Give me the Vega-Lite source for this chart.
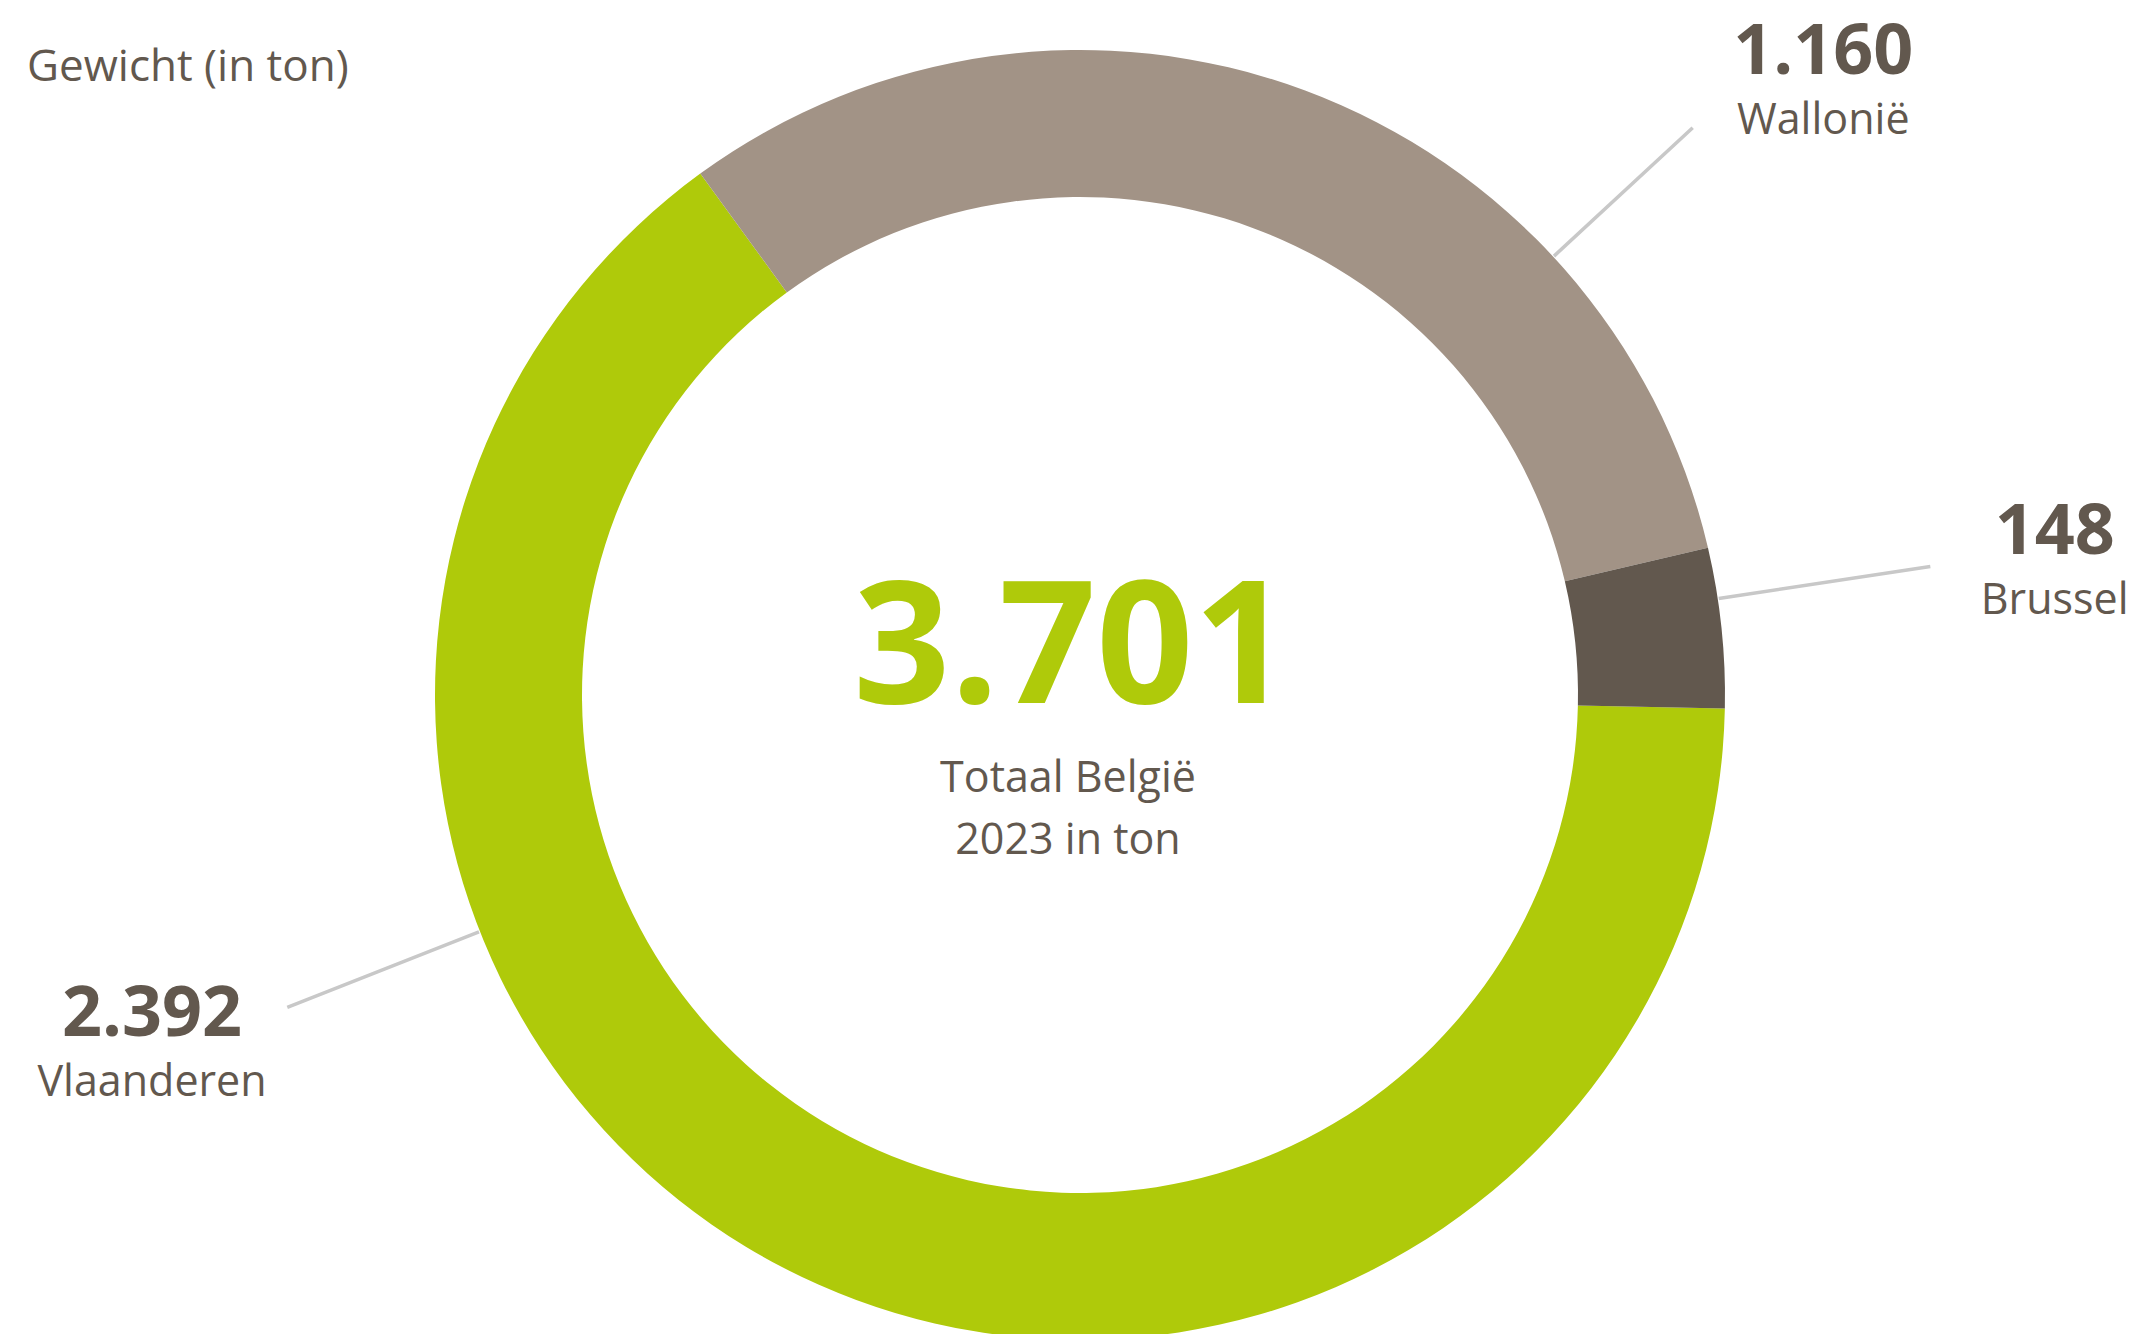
{
  "$schema": "https://vega.github.io/schema/vega-lite/v6.json",
  "width": 2120,
  "height": 1278,
  "autosize": {"type": "none"},
  "padding": {"left": 20, "top": 56, "right": 0, "bottom": 0},
  "background": "white",
  "config": {
    "view": {"stroke": null},
    "font": "Open Sans",
    "locale": {"number": {"decimal": ",", "thousands": ".", "grouping": [3], "currency": ["€", ""]}}
  },
  "title": {
    "text": "Gewicht (in ton)",
    "anchor": "start",
    "frame": "group",
    "orient": "top",
    "offset": -27,
    "baseline": "alphabetic",
    "dx": 7,
    "dy": 80,
    "fontSize": 44,
    "fontWeight": "normal",
    "color": "#62584E",
    "font": "Open Sans"
  },
  "datasets": {
    "regions": [
      {"region": "Vlaanderen", "value": 2392},
      {"region": "Wallonië", "value": 1160},
      {"region": "Brussel", "value": 148}
    ],
    "total": [
      {"total": 3701, "line1": "Totaal België", "line2": "2023 in ton"}
    ]
  },
  "data": {"name": "regions"},
  "transform": [
    {"stack": "value", "groupby": [], "sort": [{"field": "value", "order": "descending"}], "as": ["v0", "v1"]}
  ],
  "layer": [
    {
      "mark": {"type": "arc", "outerRadius": 645, "innerRadius": 498},
      "encoding": {
        "theta": {"field": "v1", "type": "quantitative", "stack": null, "scale": {"range": [1.59174, 7.87493], "nice": false, "zero": true}},
        "theta2": {"field": "v0"},
        "color": {
          "field": "region",
          "type": "nominal",
          "scale": {"domain": ["Vlaanderen", "Wallonië", "Brussel"], "range": ["#AFCA0A", "#A29386", "#62584E"]},
          "legend": null
        }
      }
    },
    {
      "transform": [{"filter": "datum.region === 'Vlaanderen'"}],
      "layer": [
        {
          "mark": {"type": "arc", "filled": false, "stroke": "#C8C8C8", "strokeWidth": 3.5, "innerRadius": 646, "outerRadius": 852, "thetaOffset": 2.7454, "theta2Offset": 2.7454},
          "encoding": {"theta": {"field": "v0", "type": "quantitative", "stack": null}, "theta2": {"field": "v0"}}
        },
        {
          "mark": {"type": "text", "radius": 996, "thetaOffset": 2.7489, "dy": -21, "baseline": "alphabetic", "align": "center", "fontSize": 70, "fontWeight": "bold", "color": "#62584E"},
          "encoding": {"theta": {"field": "v0", "type": "quantitative", "stack": null}, "text": {"field": "value", "type": "quantitative", "format": ",.0f"}}
        },
        {
          "mark": {"type": "text", "radius": 996, "thetaOffset": 2.7489, "dy": 39, "baseline": "alphabetic", "align": "center", "fontSize": 43, "color": "#62584E"},
          "encoding": {"theta": {"field": "v0", "type": "quantitative", "stack": null}, "text": {"field": "region", "type": "nominal"}}
        }
      ]
    },
    {
      "transform": [{"filter": "datum.region === 'Wallonië'"}],
      "layer": [
        {
          "mark": {"type": "arc", "filled": false, "stroke": "#C8C8C8", "strokeWidth": 3.5, "innerRadius": 646, "outerRadius": 835, "thetaOffset": 1.4533, "theta2Offset": 1.4533},
          "encoding": {"theta": {"field": "v0", "type": "quantitative", "stack": null}, "theta2": {"field": "v0"}}
        },
        {
          "mark": {"type": "text", "radius": 955, "thetaOffset": 1.5214, "dy": -21, "baseline": "alphabetic", "align": "center", "fontSize": 70, "fontWeight": "bold", "color": "#62584E"},
          "encoding": {"theta": {"field": "v0", "type": "quantitative", "stack": null}, "text": {"field": "value", "type": "quantitative", "format": ",.0f"}}
        },
        {
          "mark": {"type": "text", "radius": 955, "thetaOffset": 1.5214, "dy": 39, "baseline": "alphabetic", "align": "center", "fontSize": 43, "color": "#62584E"},
          "encoding": {"theta": {"field": "v0", "type": "quantitative", "stack": null}, "text": {"field": "region", "type": "nominal"}}
        }
      ]
    },
    {
      "transform": [{"filter": "datum.region === 'Brussel'"}],
      "layer": [
        {
          "mark": {"type": "arc", "filled": false, "stroke": "#C8C8C8", "strokeWidth": 3.5, "innerRadius": 646, "outerRadius": 860, "thetaOffset": 0.0803, "theta2Offset": 0.0803},
          "encoding": {"theta": {"field": "v0", "type": "quantitative", "stack": null}, "theta2": {"field": "v0"}}
        },
        {
          "mark": {"type": "text", "radius": 982, "thetaOffset": 0.1082, "dy": -21, "baseline": "alphabetic", "align": "center", "fontSize": 70, "fontWeight": "bold", "color": "#62584E"},
          "encoding": {"theta": {"field": "v0", "type": "quantitative", "stack": null}, "text": {"field": "value", "type": "quantitative", "format": ",.0f"}}
        },
        {
          "mark": {"type": "text", "radius": 982, "thetaOffset": 0.1082, "dy": 39, "baseline": "alphabetic", "align": "center", "fontSize": 43, "color": "#62584E"},
          "encoding": {"theta": {"field": "v0", "type": "quantitative", "stack": null}, "text": {"field": "region", "type": "nominal"}}
        }
      ]
    },
    {
      "data": {"name": "total"},
      "layer": [
        {
          "mark": {"type": "text", "dx": -8, "dy": 8, "baseline": "alphabetic", "align": "center", "fontSize": 170, "fontWeight": "bold", "color": "#AFCA0A"},
          "encoding": {"text": {"field": "total", "type": "quantitative", "format": ",.0f"}}
        },
        {
          "mark": {"type": "text", "dx": -12, "dy": 97, "baseline": "alphabetic", "align": "center", "fontSize": 43, "color": "#62584E"},
          "encoding": {"text": {"field": "line1", "type": "nominal"}}
        },
        {
          "mark": {"type": "text", "dx": -12, "dy": 159, "baseline": "alphabetic", "align": "center", "fontSize": 43, "color": "#62584E"},
          "encoding": {"text": {"field": "line2", "type": "nominal"}}
        }
      ]
    }
  ]
}
